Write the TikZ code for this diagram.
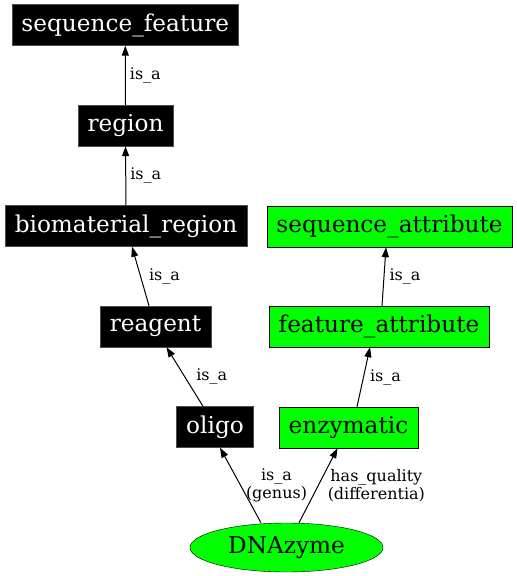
\documentclass[tikz,border=0pt]{standalone}
\usepackage{fontspec}
\setmainfont{DejaVu Serif}
\usetikzlibrary{arrows.meta,shapes.geometric}
\definecolor{mygreen}{RGB}{0,255,0}

\begin{document}
\begin{tikzpicture}[x=1pt, y=-1pt, >={Triangle[length=10pt,width=7pt]},
        termbox/.style={rectangle, fill=black, draw=black!70, text=white,
            minimum height=41pt, inner xsep=9.5pt, inner ysep=0pt,
            font=\fontsize{23.2}{27}\selectfont},
        attrbox/.style={rectangle, fill=mygreen, draw=black,
            minimum height=41pt, inner xsep=9.5pt, inner ysep=0pt,
            font=\fontsize{23.2}{27}\selectfont},
        isa/.style={->, black, line width=1pt},
        lbl/.style={font=\fontsize{16}{18}\selectfont, align=center, inner sep=0pt}]
        \useasboundingbox (0,0) rectangle (517,576);

        % -- left column: is_a chain up to sequence_feature --
        \node[termbox] (seqfeat) at (125.3,25)  {sequence\_feature};
        \node[termbox] (region)  at (125.5,125.5) {region};
        \node[termbox] (biomat)  at (126,226)   {biomaterial\_region};
        \node[termbox] (reagent) at (155.5,326.5) {reagent};
        \node[termbox] (oligo)   at (215,427)   {oligo};

        % -- right column: attributes --
        \node[attrbox] (seqattr)  at (389.5,226.5) {sequence\_attribute};
        \node[attrbox] (featattr) at (379,326.5)   {feature\_attribute};
        \node[attrbox] (enzym)    at (348.5,427.5) {enzymatic};

        % -- the term itself --
        \node[ellipse, fill=mygreen, draw=black, minimum width=193pt, minimum height=49pt,
            inner sep=0pt, font=\fontsize{23.2}{27}\selectfont] (dnazyme) at (286.5,547.5) {DNAzyme};

        % -- is_a edges, left column --
        \draw[isa] (region.north) -- (seqfeat.south)
            node[lbl,midway,right=4pt] {is\_a};
        \draw[isa] (biomat.north) -- (region.south)
            node[lbl,midway,right=4pt] {is\_a};
        \draw[isa] ([xshift=-6.5pt]reagent.north) -- ([xshift=6pt]biomat.south)
            node[lbl,midway,right=8pt] {is\_a};
        \draw[isa] ([xshift=-12pt]oligo.north) -- ([xshift=11pt]reagent.south)
            node[lbl,midway,right=11pt] {is\_a};

        % -- is_a edges, right column --
        \draw[isa] ([xshift=3pt]featattr.north) -- ([xshift=-3.5pt]seqattr.south)
            node[lbl,midway,right=5pt] {is\_a};
        \draw[isa] ([xshift=8.5pt]enzym.north) -- ([xshift=-9pt]featattr.south)
            node[lbl,midway,right=6pt] {is\_a};

        % -- genus / differentia from DNAzyme --
        \draw[isa] ([xshift=-25.5pt]dnazyme.north) -- ([xshift=5pt]oligo.south)
            node[lbl,midway,right=5pt] {is\_a\\(genus)};
        \draw[isa] ([xshift=12.5pt]dnazyme.north) -- ([xshift=-11pt]enzym.south)
            node[lbl,midway,right=9pt] {has\_quality\\(differentia)};

    \end{tikzpicture}
\end{document}
